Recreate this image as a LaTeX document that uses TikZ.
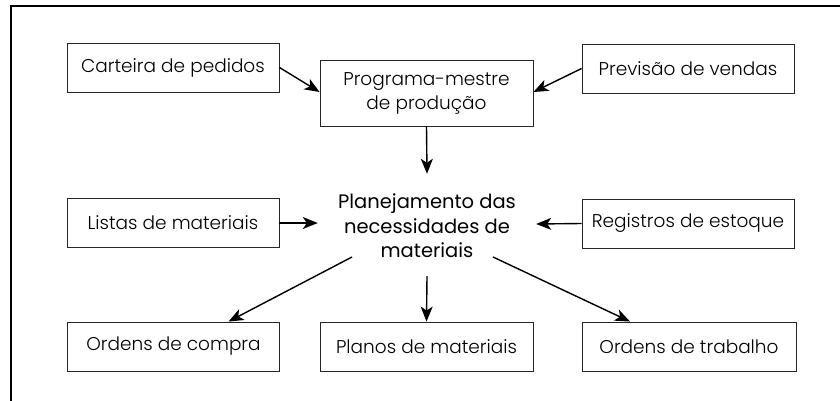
\documentclass[tikz,border=0pt]{standalone}
\usepackage{fontspec}
\setmainfont{Poppins Light}
\newfontfamily\medfont{Poppins}
\usetikzlibrary{arrows.meta,calc,positioning}

\begin{document}
\begin{tikzpicture}[x=1pt,y=-1pt,
    box/.style={draw=black!85, line width=0.9pt, minimum width=212pt, minimum height=49pt,
      inner sep=0pt, align=center, font=\fontsize{18.5}{24}\selectfont},
    arr/.style={line width=1.4pt, -{Stealth[length=15pt,width=12pt,inset=4pt]}}]

  % Frame and page size
  \useasboundingbox (0,0) rectangle (840,401);
  \draw[line width=1.8pt] (11,401) -- (11,6) -- (840,6);

  % Input boxes
  \node[box] (carteira) at (173,67.5) {Carteira de pedidos};
  \node[box, minimum width=213pt, minimum height=66pt] (programa) at (426.5,93) {Programa-mestre\\de produção};
  \node[box] (previsao) at (688,68.5) {Previsão de vendas};
  \node[box] (listas) at (173,223) {Listas de materiais};
  \node[box] (registros) at (688,223.5) {Registros de estoque};

  % Central process
  \node[align=center, inner xsep=8pt, inner ysep=0pt, minimum width=218pt, minimum height=100pt,
    font=\medfont\fontsize{19.5}{24.5}\selectfont] (plan) at (427,226)
    {Planejamento das\\necessidades de\\materiais};

  % Output boxes
  \node[box] (compra) at (173.5,346.5) {Ordens de compra};
  \node[box, minimum width=213pt] (planos) at (426.5,346.5) {Planos de materiais};
  \node[box, minimum width=214pt] (trabalho) at (689,346.5) {Ordens de trabalho};

  % Connectors
  \coordinate (planl) at ($(plan.center)+(-75,31)$);
  \coordinate (planr) at ($(plan.center)+(66,31)$);
  \draw[arr] (carteira.east) -- ($(programa.west)+(0,-1)$);
  \draw[arr] (previsao.west) -- ($(programa.east)+(0,-1)$);
  \draw[arr] (programa.south) -- ($(plan.north)+(0,-2)$);
  \draw[arr] (listas.east) -- ($(plan.west)+(0,-3)$);
  \draw[arr] (registros.west) -- ($(plan.east)+(0,-2)$);
  \draw[arr] (planl) -- ($(compra.north)+(55,0)$);
  \draw[arr] (plan.south) -- (planos.north);
  \draw[arr] (planr) -- ($(trabalho.north)+(-59,0)$);

\end{tikzpicture}
\end{document}
